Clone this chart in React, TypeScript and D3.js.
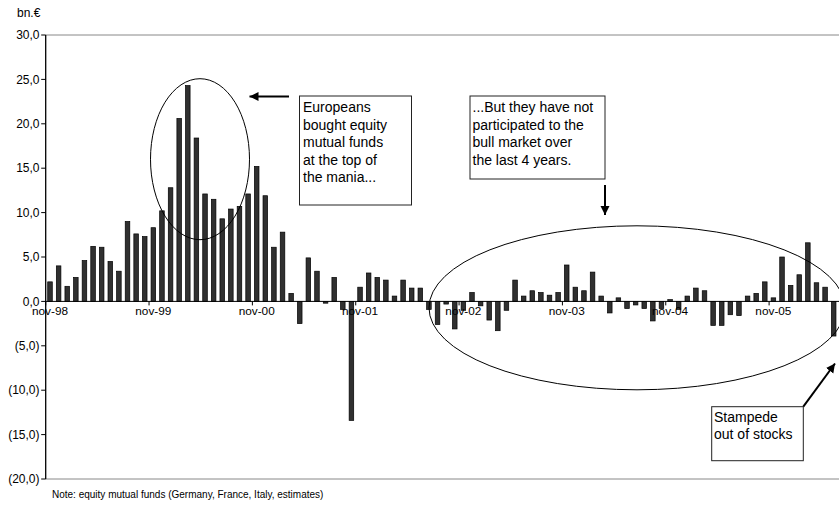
import React from "react";
import * as d3 from "d3";

const months: string[] = [
  "nov-98","dec-98",
  "jan-99","feb-99","mar-99","apr-99","may-99","jun-99","jul-99","aug-99","sep-99","oct-99","nov-99","dec-99",
  "jan-00","feb-00","mar-00","apr-00","may-00","jun-00","jul-00","aug-00","sep-00","oct-00","nov-00","dec-00",
  "jan-01","feb-01","mar-01","apr-01","may-01","jun-01","jul-01","aug-01","sep-01","oct-01","nov-01","dec-01",
  "jan-02","feb-02","mar-02","apr-02","may-02","jun-02","jul-02","aug-02","sep-02","oct-02","nov-02","dec-02",
  "jan-03","feb-03","mar-03","apr-03","may-03","jun-03","jul-03","aug-03","sep-03","oct-03","nov-03","dec-03",
  "jan-04","feb-04","mar-04","apr-04","may-04","jun-04","jul-04","aug-04","sep-04","oct-04","nov-04","dec-04",
  "jan-05","feb-05","mar-05","apr-05","may-05","jun-05","jul-05","aug-05","sep-05","oct-05","nov-05","dec-05",
  "jan-06","feb-06","mar-06","apr-06","may-06","jun-06",
];

const flows: number[] = [
  2.2, 4.0,
  1.7, 2.7, 4.6, 6.2, 6.1, 4.5, 3.4, 9.0, 7.6, 7.3, 8.3, 10.2,
  12.8, 20.6, 24.3, 18.4, 12.1, 11.5, 9.3, 10.4, 10.7, 12.1, 15.2, 11.9,
  6.1, 7.8, 0.9, -2.5, 4.9, 3.4, -0.2, 2.7, -0.9, -13.4, 1.6, 3.2,
  2.7, 2.4, 0.6, 2.4, 1.5, 1.5, -0.9, -2.6, -0.3, -3.1, -1.0, 1.0,
  -0.5, -2.1, -3.3, -1.0, 2.4, 0.6, 1.2, 1.0, 0.7, 1.0, 4.1, 1.6,
  1.2, 3.3, 0.6, -1.3, 0.4, -0.8, -0.4, -0.8, -2.2, -0.8, 0.2, -0.9,
  0.6, 1.5, 1.2, -2.7, -2.7, -1.5, -1.6, 0.6, 0.9, 2.2, 0.4, 5.0,
  1.8, 3.0, 6.6, 2.1, 1.6, -3.9,
];

const xTickLabels: string[] = ["nov-98","nov-99","nov-00","nov-01","nov-02","nov-03","nov-04","nov-05"];
const yTicks: number[] = [-20, -15, -10, -5, 0, 5, 10, 15, 20, 25, 30];

const W = 839;
const H = 507;
const X0 = 45.7;
const X1 = 838;
const YTOP = 35;
const YBOT = 479;
const FONT = "'Liberation Sans', Arial, Helvetica, sans-serif";

const fmtY = (v: number) => {
  const s = Math.abs(v).toFixed(1).replace(".", ",");
  return v < 0 ? `(${s})` : s;
};

export default function App() {
  const x = d3.scaleBand<string>().domain(months).range([X0, X1]).paddingInner(0.47).paddingOuter(0.235);
  const y = d3.scaleLinear().domain([-20, 30]).range([YBOT, YTOP]);
  const step = x.step();
  const y0 = y(0);

  const boxText = (lines: string[], x0: number, y0: number, lh: number) =>
    lines.map((l, i) => (
      <text key={i} x={x0} y={y0 + i * lh} fontSize={14} fontFamily={FONT} fill="#000">
        {l}
      </text>
    ));

  return (
    <div style={{ position: "absolute", left: 0, top: 0 }}>
      <svg width={W} height={H} viewBox={`0 0 ${W} ${H}`} style={{ display: "block", background: "#fff" }}>
        <defs>
          <marker id="ah" markerUnits="userSpaceOnUse" markerWidth="10" markerHeight="10" refX="9" refY="4.5" orient="auto">
            <path d="M0,0 L9,4.5 L0,9 Z" fill="#000" />
          </marker>
        </defs>
        <text x={17} y={17} fontSize={12} fontFamily={FONT} fill="#000">bn.€</text>

        {/* plot border lines */}
        <line x1={X0} x2={W} y1={YTOP} y2={YTOP} stroke="#888" strokeWidth={1} />
        <line x1={X0} x2={W} y1={YBOT} y2={YBOT} stroke="#888" strokeWidth={1} />

        {/* bars */}
        {flows.map((v, i) => {
          const m = months[i];
          const top = y(Math.max(0, v));
          const bot = y(Math.min(0, v));
          return (
            <rect key={m} x={x(m)} y={top} width={x.bandwidth()} height={Math.max(0.5, bot - top)}
              fill="#303030" stroke="#000" strokeWidth={0.7} />
          );
        })}

        {/* y axis */}
        <line x1={X0} x2={X0} y1={YTOP} y2={YBOT} stroke="#000" strokeWidth={1.3} />
        {yTicks.map((t) => (
          <g key={t}>
            <line x1={X0 - 4.5} x2={X0} y1={y(t)} y2={y(t)} stroke="#000" strokeWidth={1} />
            <text x={39.5} y={y(t) + 4.2} textAnchor="end" fontSize={12} fontFamily={FONT} fill="#000">
              {fmtY(t)}
            </text>
          </g>
        ))}

        {/* x axis at zero */}
        <line x1={X0} x2={W} y1={y0} y2={y0} stroke="#000" strokeWidth={1} />
        {xTickLabels.map((lab) => {
          const bx = (x(lab) as number) - (step * x.paddingInner()) / 2;
          return (
            <g key={lab}>
              <line x1={bx} x2={bx} y1={y0} y2={y0 + 4} stroke="#000" strokeWidth={1} />
              <text x={(x(lab) as number) + x.bandwidth() / 2} y={y0 + 13.5} textAnchor="middle" fontSize={11.8} fontFamily={FONT} fill="#000">
                {lab}
              </text>
            </g>
          );
        })}

        {/* ellipses */}
        <ellipse cx={200} cy={159.2} rx={49.5} ry={80.5} fill="none" stroke="#000" strokeWidth={1} />
        <ellipse cx={637} cy={307.8} rx={208} ry={82} fill="none" stroke="#000" strokeWidth={1} />

        {/* text boxes */}
        <rect x={299.5} y={96} width={112} height={109} fill="#fff" stroke="#222" strokeWidth={1} />
        {boxText(["Europeans", "bought equity", "mutual funds", "at the top of", "the mania..."], 303, 112, 17.5)}

        <rect x={470} y={96} width={135} height={83} fill="#fff" stroke="#222" strokeWidth={1} />
        {boxText(["...But they have not", "participated to the", "bull market over", "the last 4 years."], 472.5, 112, 17.5)}

        <rect x={711.7} y={406.7} width={91.6} height={54} fill="#fff" stroke="#222" strokeWidth={1} />
        {boxText(["Stampede", "out of stocks"], 714, 421.5, 17.5)}

        {/* arrows */}
        <line x1={289} y1={96.5} x2={249.5} y2={96.5} stroke="#000" strokeWidth={2} markerEnd="url(#ah)" />
        <line x1={605} y1={185} x2={605} y2={215} stroke="#000" strokeWidth={2} markerEnd="url(#ah)" />
        <line x1={803.3} y1={406.7} x2={835} y2={363.5} stroke="#000" strokeWidth={2} markerEnd="url(#ah)" />

        <text x={52} y={498} fontSize={10} fontFamily={FONT} fill="#000">
          Note: equity mutual funds (Germany, France, Italy, estimates)
        </text>
      </svg>
    </div>
  );
}
